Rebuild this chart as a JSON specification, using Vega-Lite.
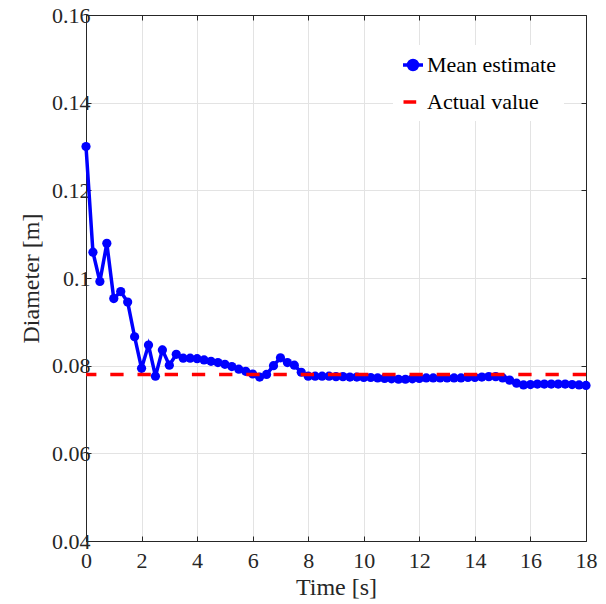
{
  "$schema": "https://vega.github.io/schema/vega-lite/v6.json",
  "width": 500,
  "height": 526,
  "autosize": {"type": "none"},
  "padding": {"left": 86, "top": 15, "right": 20, "bottom": 63},
  "background": "white",
  "config": {
    "font": "Liberation Serif",
    "view": {"stroke": null},
    "axis": {
      "domainColor": "#262626",
      "domainWidth": 1,
      "tickColor": "#262626",
      "tickSize": -5,
      "labelColor": "#262626",
      "labelFont": "Liberation Serif",
      "labelFontSize": 22,
      "titleFont": "Liberation Serif",
      "titleFontSize": 24,
      "titleFontWeight": "normal",
      "titleColor": "#262626",
      "gridColor": "#e3e3e3",
      "gridWidth": 1
    }
  },
  "data": {
    "values": [
      {"t": 0, "d": 0.1300, "series": "Mean estimate"},
      {"t": 0.25, "d": 0.1059, "series": "Mean estimate"},
      {"t": 0.5, "d": 0.0992, "series": "Mean estimate"},
      {"t": 0.75, "d": 0.1079, "series": "Mean estimate"},
      {"t": 1.0, "d": 0.0953, "series": "Mean estimate"},
      {"t": 1.25, "d": 0.0969, "series": "Mean estimate"},
      {"t": 1.5, "d": 0.0945, "series": "Mean estimate"},
      {"t": 1.75, "d": 0.0866, "series": "Mean estimate"},
      {"t": 2.0, "d": 0.0794, "series": "Mean estimate"},
      {"t": 2.25, "d": 0.0847, "series": "Mean estimate"},
      {"t": 2.5, "d": 0.0776, "series": "Mean estimate"},
      {"t": 2.75, "d": 0.0836, "series": "Mean estimate"},
      {"t": 3.0, "d": 0.0801, "series": "Mean estimate"},
      {"t": 3.25, "d": 0.0826, "series": "Mean estimate"},
      {"t": 3.5, "d": 0.0817, "series": "Mean estimate"},
      {"t": 3.75, "d": 0.0817, "series": "Mean estimate"},
      {"t": 4.0, "d": 0.0816, "series": "Mean estimate"},
      {"t": 4.25, "d": 0.0813, "series": "Mean estimate"},
      {"t": 4.5, "d": 0.0810, "series": "Mean estimate"},
      {"t": 4.75, "d": 0.0807, "series": "Mean estimate"},
      {"t": 5.0, "d": 0.0803, "series": "Mean estimate"},
      {"t": 5.25, "d": 0.0798, "series": "Mean estimate"},
      {"t": 5.5, "d": 0.0792, "series": "Mean estimate"},
      {"t": 5.75, "d": 0.0787, "series": "Mean estimate"},
      {"t": 6.0, "d": 0.0781, "series": "Mean estimate"},
      {"t": 6.25, "d": 0.0774, "series": "Mean estimate"},
      {"t": 6.5, "d": 0.0780, "series": "Mean estimate"},
      {"t": 6.75, "d": 0.0800, "series": "Mean estimate"},
      {"t": 7.0, "d": 0.0818, "series": "Mean estimate"},
      {"t": 7.25, "d": 0.0807, "series": "Mean estimate"},
      {"t": 7.5, "d": 0.0801, "series": "Mean estimate"},
      {"t": 7.75, "d": 0.0785, "series": "Mean estimate"},
      {"t": 8.0, "d": 0.0776, "series": "Mean estimate"},
      {"t": 8.25, "d": 0.0776, "series": "Mean estimate"},
      {"t": 8.5, "d": 0.0776, "series": "Mean estimate"},
      {"t": 8.75, "d": 0.0776, "series": "Mean estimate"},
      {"t": 9.0, "d": 0.0775, "series": "Mean estimate"},
      {"t": 9.25, "d": 0.0775, "series": "Mean estimate"},
      {"t": 9.5, "d": 0.0774, "series": "Mean estimate"},
      {"t": 9.75, "d": 0.0774, "series": "Mean estimate"},
      {"t": 10.0, "d": 0.0773, "series": "Mean estimate"},
      {"t": 10.25, "d": 0.0773, "series": "Mean estimate"},
      {"t": 10.5, "d": 0.0772, "series": "Mean estimate"},
      {"t": 10.75, "d": 0.0771, "series": "Mean estimate"},
      {"t": 11.0, "d": 0.0770, "series": "Mean estimate"},
      {"t": 11.25, "d": 0.0769, "series": "Mean estimate"},
      {"t": 11.5, "d": 0.0769, "series": "Mean estimate"},
      {"t": 11.75, "d": 0.0770, "series": "Mean estimate"},
      {"t": 12.0, "d": 0.0771, "series": "Mean estimate"},
      {"t": 12.25, "d": 0.0772, "series": "Mean estimate"},
      {"t": 12.5, "d": 0.0772, "series": "Mean estimate"},
      {"t": 12.75, "d": 0.0772, "series": "Mean estimate"},
      {"t": 13.0, "d": 0.0772, "series": "Mean estimate"},
      {"t": 13.25, "d": 0.0772, "series": "Mean estimate"},
      {"t": 13.5, "d": 0.0772, "series": "Mean estimate"},
      {"t": 13.75, "d": 0.0773, "series": "Mean estimate"},
      {"t": 14.0, "d": 0.0773, "series": "Mean estimate"},
      {"t": 14.25, "d": 0.0774, "series": "Mean estimate"},
      {"t": 14.5, "d": 0.0775, "series": "Mean estimate"},
      {"t": 14.75, "d": 0.0775, "series": "Mean estimate"},
      {"t": 15.0, "d": 0.0772, "series": "Mean estimate"},
      {"t": 15.25, "d": 0.0767, "series": "Mean estimate"},
      {"t": 15.5, "d": 0.0760, "series": "Mean estimate"},
      {"t": 15.75, "d": 0.0756, "series": "Mean estimate"},
      {"t": 16.0, "d": 0.0757, "series": "Mean estimate"},
      {"t": 16.25, "d": 0.0758, "series": "Mean estimate"},
      {"t": 16.5, "d": 0.0758, "series": "Mean estimate"},
      {"t": 16.75, "d": 0.0758, "series": "Mean estimate"},
      {"t": 17.0, "d": 0.0758, "series": "Mean estimate"},
      {"t": 17.25, "d": 0.0758, "series": "Mean estimate"},
      {"t": 17.5, "d": 0.0757, "series": "Mean estimate"},
      {"t": 17.75, "d": 0.0756, "series": "Mean estimate"},
      {"t": 18.0, "d": 0.0755, "series": "Mean estimate"}
    ]
  },
  "resolve": {"axis": {"x": "independent", "y": "independent"}},
  "layer": [
    {
      "mark": {"type": "line", "strokeWidth": 3.5},
      "encoding": {
        "x": {
          "field": "t", "type": "quantitative",
          "scale": {"domain": [0, 18], "nice": false},
          "axis": {"title": "Time [s]", "values": [0, 2, 4, 6, 8, 10, 12, 14, 16, 18], "grid": true, "labelPadding": 14, "titlePadding": 4, "labelFlush": false, "labelFont": "Liberation Serif", "labelFontSize": 22, "titleFontSize": 24}
        },
        "y": {
          "field": "d", "type": "quantitative",
          "scale": {"domain": [0.04, 0.16], "nice": false, "zero": false},
          "axis": {"title": "Diameter [m]", "values": [0.04, 0.06, 0.08, 0.1, 0.12, 0.14, 0.16], "grid": true, "labelPadding": 1, "titlePadding": 8, "labelExpr": "format(datum.value, '.2~f')", "labelFlush": false, "labelFont": "Liberation Serif", "labelFontSize": 22, "titleFontSize": 24}
        },
        "color": {
          "field": "series", "type": "nominal",
          "scale": {"domain": ["Mean estimate", "Actual value"], "range": ["#0000ff", "#ff0000"]},
          "legend": {
            "title": null,
            "orient": "none",
            "legendX": 307,
            "legendY": 30,
            "fillColor": "white",
            "padding": 8,
            "labelFont": "Liberation Serif",
            "labelFontSize": 22,
            "labelColor": "#000000",
            "symbolSize": 400,
            "rowPadding": 13,
            "labelOffset": 2,
            "encode": {
              "symbols": {
                "update": {
                  "shape": {"signal": "datum.value === 'Mean estimate' ? 'M-1,0L1,0M0.45,0A0.45,0.45,0,1,1,-0.45,0A0.45,0.45,0,1,1,0.45,0Z' : 'M-0.95,0L0.32,0'"},
                  "fill": {"signal": "datum.value === 'Mean estimate' ? '#0000ff' : 'transparent'"},
                  "stroke": {"signal": "datum.value === 'Mean estimate' ? '#0000ff' : '#ff0000'"},
                  "strokeWidth": {"value": 3.5},
                  "opacity": {"value": 1}
                }
              }
            }
          }
        }
      }
    },
    {
      "mark": {"type": "point", "filled": true, "size": 85, "opacity": 1},
      "encoding": {
        "x": {
          "field": "t", "type": "quantitative",
          "axis": {"orient": "top", "title": null, "labels": false, "grid": false, "values": [0, 2, 4, 6, 8, 10, 12, 14, 16, 18]}
        },
        "y": {"field": "d", "type": "quantitative", "axis": null},
        "color": {"field": "series", "type": "nominal"}
      }
    },
    {
      "data": {"values": [{"v": 0.078, "series": "Actual value"}]},
      "mark": {"type": "rule", "strokeWidth": 3.5, "strokeDash": [13.3, 13.9]},
      "encoding": {
        "y": {
          "field": "v", "type": "quantitative",
          "axis": {"orient": "right", "title": null, "labels": false, "grid": false, "values": [0.04, 0.06, 0.08, 0.1, 0.12, 0.14, 0.16]}
        },
        "color": {"field": "series", "type": "nominal"}
      }
    }
  ]
}
